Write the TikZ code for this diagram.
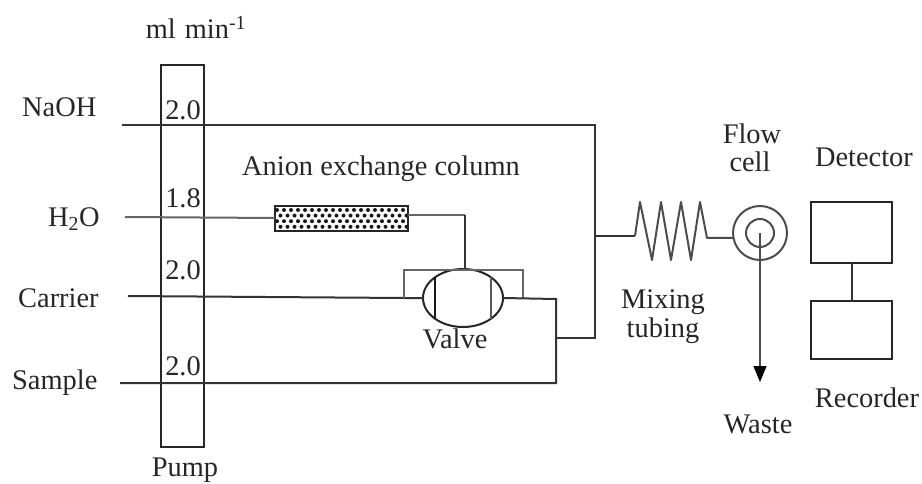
\documentclass[tikz,border=0pt]{standalone}
\usepackage{fontspec}
\setmainfont{Liberation Serif}
\usetikzlibrary{arrows.meta,calc,shapes.geometric}
\tikzset{
  lbl/.style={inner sep=0pt,font=\fontsize{28.4}{30}\selectfont,text=black!85},
  pipe/.style={draw=black!80,line width=2pt},
  boxed/.style={draw=black!85,line width=2pt,inner sep=0pt,outer sep=0pt,fill=none},
}
\begin{document}
\begin{tikzpicture}[x=1pt,y=-1pt]
\useasboundingbox (0,0) rectangle (922,484);
% free ends and bends
\coordinate (naohS) at (122,125);
\coordinate (naohC) at (595,125);
\coordinate (naohJ) at (595,236);
\coordinate (naohE) at (595,338);
\coordinate (mixJ) at (556,338);
\coordinate (h2oS) at (125,217);
\coordinate (carS) at (128,296);
\coordinate (sampS) at (120,383);
\coordinate (sampC) at (556,383);
\coordinate (rightC) at (556,299);
\coordinate (loopL) at (404,298);
\coordinate (loopLT) at (404,270);
\coordinate (loopRT) at (523,270);
\coordinate (loopR) at (523,299);
\coordinate (colC) at (465,215);
\coordinate (zigS) at (635,236);
\coordinate (zigE) at (707,238);
% pump
\node[boxed,minimum width=43pt,minimum height=382pt,anchor=north west] (pump) at (161,65) {};
% column
\begin{scope}
\clip (275,206) rectangle (408,231);
\foreach \i in {0,...,19}{\foreach \j in {0,...,3}{
  \fill[black!90] ({277+\i*7+mod(\j,2)*3.5},{210+\j*5.6}) circle (2pt);
}}
\end{scope}
\node[boxed,minimum width=133pt,minimum height=25pt,anchor=north west] (column) at (275,206) {};
% valve
\node[draw=black!85,line width=2pt,ellipse,inner sep=0pt,outer sep=0pt,minimum width=80pt,minimum height=58pt] (valve) at (463,298) {};
% flow cell
\node[draw=black!70,line width=2pt,circle,inner sep=0pt,outer sep=0pt,minimum size=54pt] (cellO) at (760,233) {};
\node[draw=black!70,line width=2pt,circle,inner sep=0pt,outer sep=0pt,minimum size=28pt] (cellI) at (760,233) {};
% detector / recorder
\node[boxed,minimum width=81pt,minimum height=61pt,anchor=north west] (det) at (811,202) {};
\node[boxed,minimum width=81pt,minimum height=58pt,anchor=north west] (rec) at (811,301) {};
\coordinate (wasteEnd) at (760,382);
\coordinate (cellC) at (760,233);
% chords
\draw[black!90,line width=2pt] (435,277) -- (435,319);
\draw[black!65,line width=2pt] (491,277) -- (491,319);
% connectors
\draw[pipe] (naohS) -- (naohC) -- (naohE) -- (mixJ);
\draw[pipe,black!60] (h2oS) -- (column.west |- 0,218);
\draw[pipe,black!60] (column.east |- colC) -- (colC);
\draw[pipe] (colC) -- (colC |- valve.north);
\draw[pipe] (carS) -- (loopL) -- (valve.west);
\draw[pipe,black!60] (loopL) -- (loopLT) -- (loopRT) -- (loopR);
\draw[pipe] (valve.east) -- (rightC) -- (sampC) -- (sampS);
\draw[pipe] (naohJ) -- (zigS);
\draw[pipe,black!70,line join=round] (zigS) -- (640,202) -- (652,260) -- (661,202) -- (671,260) -- (681,202) -- (691,260) -- (700,202) -- (zigE) -- (cellO.west |- zigE);
\draw[black!70,line width=1.2pt,-{Triangle[length=16pt,width=13pt,fill=black,color=black]}] (cellC) -- (wasteEnd);
\draw[pipe] (det.south) -- (rec.north);
% labels
\node[lbl] (lmin) at (196,27) {ml\hspace{9pt}min\textsuperscript{-1}};
\node[lbl,anchor=west] (lnaoh) at (22,107) {NaOH};
\node[lbl,anchor=west] (lh2o) at (48,219) {H\textsubscript{2}O};
\node[lbl,anchor=west] (lcar) at (18,298) {Carrier};
\node[lbl,anchor=west] (lsam) at (12,383) {Sample};
\node[lbl] (r1) at (183,110) {2.0};
\node[lbl] (r2) at (183,198) {1.8};
\node[lbl] (r3) at (183,270) {2.0};
\node[lbl] (r4) at (183,366) {2.0};
\node[lbl] (lpump) at (185,470) {Pump};
\node[lbl] (lanion) at (381,169) {Anion exchange column};
\node[lbl] (lvalve) at (455,339) {Valve};
\node[lbl] (lflow) at (752,134) {Flow};
\node[lbl] (lcell) at (750,162) {cell};
\node[lbl] (ldet) at (864,157) {Detector};
\node[lbl] (lmix) at (663,302) {Mixing};
\node[lbl] (ltub) at (663,331) {tubing};
\node[lbl] (lwaste) at (758,424) {Waste};
\node[lbl] (lrec) at (867,398) {Recorder};
\end{tikzpicture}
\end{document}
